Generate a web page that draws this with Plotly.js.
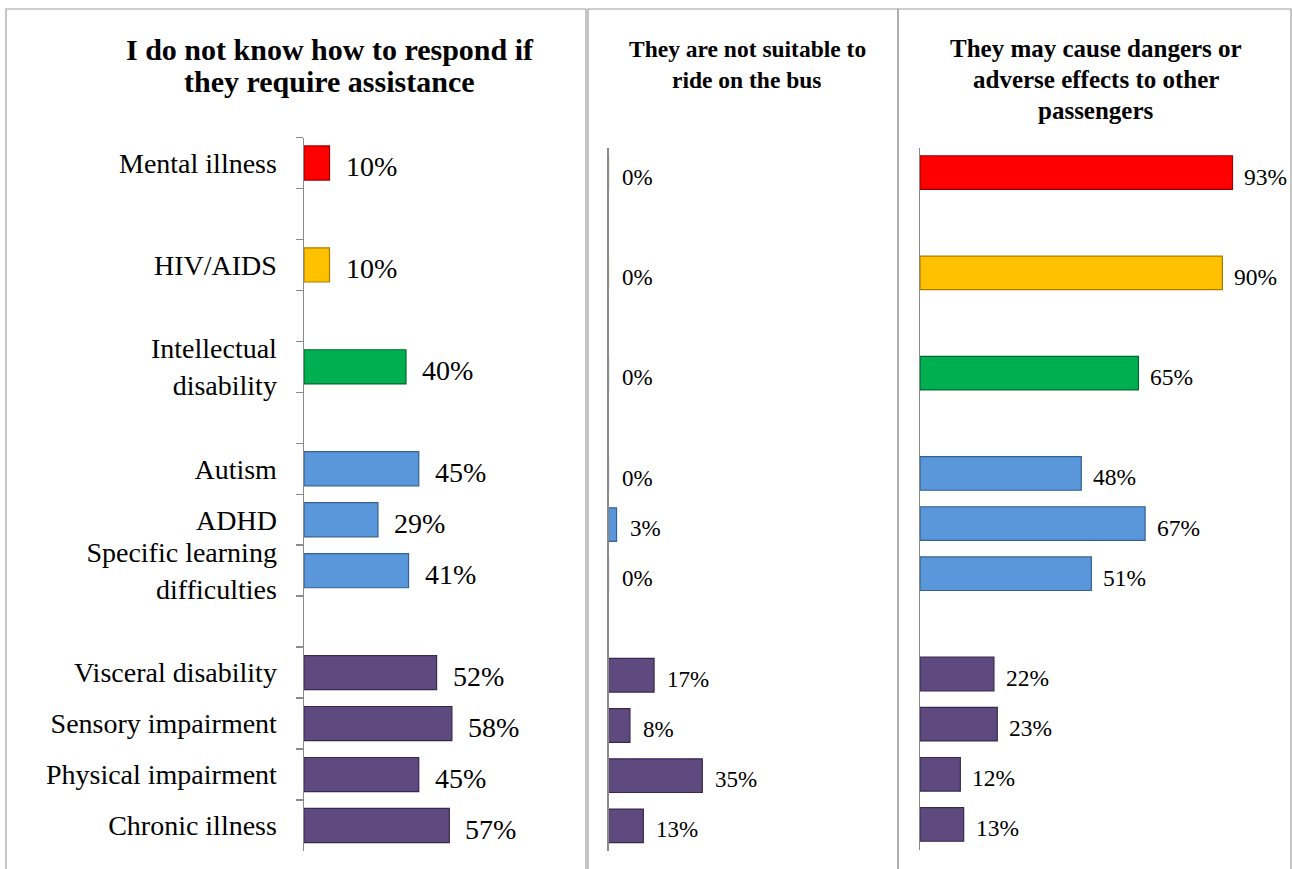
<!DOCTYPE html>
<html>
<head>
<meta charset="utf-8">
<script src="https://cdn.plot.ly/plotly-3.0.1.min.js"></script>
<style>
html,body{margin:0;padding:0;background:#fff;}
#chart{width:1292px;height:869px;}
</style>
</head>
<body>
<div id="chart"></div>
<script>
// ---------- DATA ----------
const categories = [
  "Mental illness", "HIV/AIDS", "Intellectual<br>disability",
  "Autism", "ADHD", "Specific learning<br>difficulties",
  "Visceral disability", "Sensory impairment", "Physical impairment", "Chronic illness"
];
// axis order (top to bottom) with blank spacer slots between groups
const axisOrder = [
  "Mental illness", " ", "HIV/AIDS", "  ", "Intellectual<br>disability", "   ",
  "Autism", "ADHD", "Specific learning<br>difficulties", "    ",
  "Visceral disability", "Sensory impairment", "Physical impairment", "Chronic illness"
];
const panelTitles = [
  ["I do not know how to respond if", "they require assistance"],
  ["They are not suitable to", "ride on the bus"],
  ["They may cause dangers or", "adverse effects to other", "passengers"]
];
const noHelpValues   = [10, 10, 40, 45, 29, 41, 52, 58, 45, 57];
const notSuitValues  = [0, 0, 0, 0, 3, 0, 17, 8, 35, 13];
const dangerValues   = [93, 90, 65, 48, 67, 51, 22, 23, 12, 13];

// ---------- STYLE ----------
const barColors = ["#FF0000", "#FFC000", "#00B050", "#5A96DA", "#5A96DA", "#5A96DA",
                   "#5F4A80", "#5F4A80", "#5F4A80", "#5F4A80"];
const barEdges  = ["#A00000", "#A87E00", "#006A30", "#35628F", "#35628F", "#35628F",
                   "#38284F", "#38284F", "#38284F", "#38284F"];
const W = 1292, H = 869;
const px = x => x / W;
const py = y => 1 - y / H;
const serif = "Liberation Serif, Times New Roman, serif";
const gray = "#8A8A8A";

const series = [noHelpValues, notSuitValues, dangerValues];
const panels = [
  {x0: 304, x1: 559, y0: 137.5, y1: 851, labelSize: 28, shift: 14},
  {x0: 608.5, x1: 876.5, y0: 148, y1: 851, labelSize: 23, shift: 11},
  {x0: 920, x1: 1256, y0: 147.5, y1: 849.5, labelSize: 23.5, shift: 10}
];

const traces = series.map((vals, i) => ({
  type: "bar",
  orientation: "h",
  x: vals,
  y: categories,
  xaxis: i === 0 ? "x" : "x" + (i + 1),
  yaxis: i === 0 ? "y" : "y" + (i + 1),
  marker: {color: barColors, line: {color: barEdges, width: 1.2}},
  hoverinfo: "x+y",
  showlegend: false
}));

const layout = {
  width: W, height: H, autosize: false,
  margin: {l: 0, r: 0, t: 0, b: 0, pad: 0},
  paper_bgcolor: "#fff", plot_bgcolor: "rgba(0,0,0,0)",
  bargap: 0.33,
  font: {family: serif, color: "#000"},
  annotations: [], shapes: []
};

panels.forEach((p, i) => {
  const sx = i === 0 ? "" : String(i + 1);
  layout["xaxis" + sx] = {
    domain: [px(p.x0), px(p.x1)], range: [0, 100], anchor: "y" + sx,
    visible: false, fixedrange: true
  };
  layout["yaxis" + sx] = {
    domain: [py(p.y1), py(p.y0)], anchor: "x" + sx,
    type: "category", categoryorder: "array", categoryarray: axisOrder,
    range: [axisOrder.length - 0.5, -0.5],
    showline: true, linecolor: gray, linewidth: 1.5,
    showgrid: false, zeroline: false,
    ticks: i === 0 ? "outside" : "", tickson: "boundaries",
    ticklen: 7, tickcolor: gray, tickwidth: 1.5,
    showticklabels: i === 0,
    ticklabelstandoff: 20,
    tickfont: {family: serif, size: 28, color: "#000"},
    fixedrange: true
  };
  // data labels
  series[i].forEach((v, k) => {
    layout.annotations.push({
      x: v, y: categories[k], xref: "x" + sx, yref: "y" + sx,
      text: v + "%", showarrow: false, xanchor: "left", yanchor: "middle",
      xshift: p.shift, yshift: -4,
      font: {family: serif, size: p.labelSize, color: "#000"}
    });
  });
});

// titles
const titleSpecs = [
  {cx: 329.5, ys: [50, 81], size: 30},
  {cx: 747, ys: [49, 80], size: 23.5},
  {cx: 1096, ys: [48, 79, 110], size: 25}
];
titleSpecs.forEach((t, i) => {
  panelTitles[i].forEach((line, j) => {
    layout.annotations.push({
      x: px(t.cx), y: py(t.ys[j]), xref: "paper", yref: "paper",
      text: "<b>" + line + "</b>", showarrow: false,
      xanchor: "center", yanchor: "middle",
      font: {family: serif, size: t.size, color: "#000"}
    });
  });
});

// panel borders
const borders = [[6, 586], [588, 898], [898, 1291]];
borders.forEach(b => {
  layout.shapes.push({
    type: "rect", xref: "paper", yref: "paper",
    x0: px(b[0]), x1: px(b[1]), y0: -0.05, y1: py(9),
    line: {color: "#A0A0A0", width: 1.2}, fillcolor: "rgba(0,0,0,0)", layer: "below"
  });
});

Plotly.newPlot("chart", traces, layout, {staticPlot: true, displayModeBar: false});
</script>
</body>
</html>
